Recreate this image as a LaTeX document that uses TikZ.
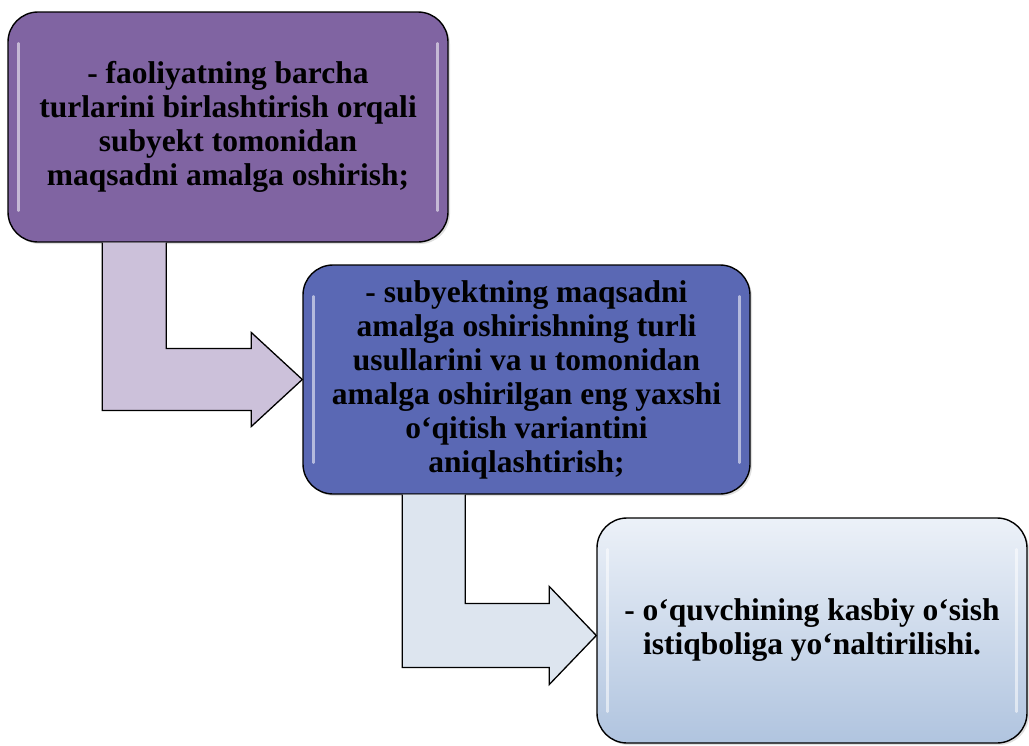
\documentclass[tikz,border=0pt]{standalone}
\usepackage{fontspec}
\setmainfont{Liberation Serif}
\usepackage{tikz}
\usetikzlibrary{positioning,calc,shadows}
\definecolor{plum}{HTML}{8064A2}
\definecolor{indigo}{HTML}{5A68B4}
\definecolor{lilac}{HTML}{CCC1DA}
\definecolor{frost}{HTML}{DDE5EF}
\definecolor{skytop}{HTML}{ECF1F8}
\definecolor{skybot}{HTML}{B0C4DF}

\begin{document}
\begin{tikzpicture}[
  x=1pt,y=-1pt,
  box/.style={draw=black,line width=1.4pt,rounded corners=30pt,align=center,
    font=\bfseries\fontsize{31.5}{34}\selectfont,inner sep=0pt,
    drop shadow={opacity=0.25,shadow xshift=2pt,shadow yshift=-2pt}},
  bent/.style={draw=black,line width=1.3pt,line join=miter},
  gloss/.style={white,opacity=0.55,line width=2.5pt,line cap=round}
]
\useasboundingbox (0,0) rectangle (1029,745);

% --- three stages ---
\node[box,fill=plum,minimum width=440pt,minimum height=230pt] (p1) at (228,127)
  {- faoliyatning barcha\\ turlarini birlashtirish orqali\\ subyekt tomonidan\\ maqsadni amalga oshirish;};
\node[box,fill=indigo,minimum width=447pt,minimum height=229pt] (p2) at (526.5,379.5)
  {- subyektning maqsadni\\ amalga oshirishning turli\\ usullarini va u tomonidan\\ amalga oshirilgan eng yaxshi\\ o‘qitish variantini\\ aniqlashtirish;};
\node[box,top color=skytop,bottom color=skybot,minimum width=430pt,minimum height=225pt] (p3) at (812,630.5)
  {- o‘quvchining kasbiy o‘sish\\ istiqboliga yo‘naltirilishi.};

% gloss strips
\foreach \b in {p1,p2,p3} {
  \draw[gloss] ($(\b.north west)+(11,32)$) -- ($(\b.south west)+(11,-32)$);
  \draw[gloss] ($(\b.north east)+(-11,32)$) -- ($(\b.south east)+(-11,-32)$);
}

% --- bent arrow p1 -> p2 ---
\coordinate (t1) at (p2.west);
\fill[lilac] ($(p1.south west)+(95,0)$) |- ($(t1)+(-51,31)$) -- ($(t1)+(-51,47)$) -- (t1)
  -- ($(t1)+(-51,-47)$) -- ($(t1)+(-51,-31)$) -| ($(p1.south west)+(159,0)$) -- cycle;
\draw[bent] ($(p1.south west)+(95,0)$) |- ($(t1)+(-51,31)$) -- ($(t1)+(-51,47)$) -- (t1)
  -- ($(t1)+(-51,-47)$) -- ($(t1)+(-51,-31)$) -| ($(p1.south west)+(159,0)$);

% --- bent arrow p2 -> p3 ---
\coordinate (t2) at ($(p3.west)+(0,5)$);
\fill[frost] ($(p2.south west)+(100,0)$) |- ($(t2)+(-47,32)$) -- ($(t2)+(-47,49)$) -- (t2)
  -- ($(t2)+(-47,-49)$) -- ($(t2)+(-47,-32)$) -| ($(p2.south west)+(163,0)$) -- cycle;
\draw[bent] ($(p2.south west)+(100,0)$) |- ($(t2)+(-47,32)$) -- ($(t2)+(-47,49)$) -- (t2)
  -- ($(t2)+(-47,-49)$) -- ($(t2)+(-47,-32)$) -| ($(p2.south west)+(163,0)$);
\end{tikzpicture}
\end{document}
